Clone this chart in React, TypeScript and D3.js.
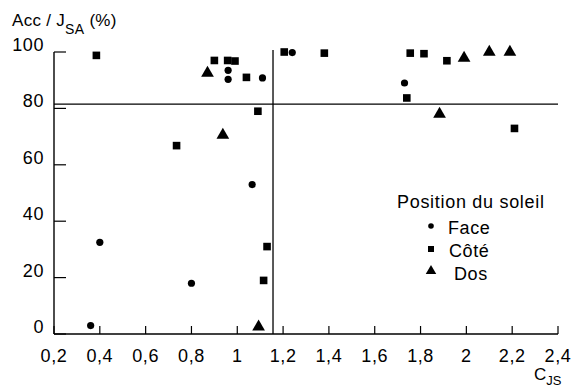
import React, { useRef, useEffect } from 'react';
import * as d3 from 'd3';

// C_JS / Acc values, one list per sun position
const faceX = [0.36, 0.4, 0.8, 0.96, 0.96, 1.065, 1.11, 1.24, 1.73];
const faceY = [3, 32.5, 18, 93.5, 90.3, 53, 90.8, 99.8, 89];

const coteX = [0.385, 0.735, 0.9, 0.958, 0.99, 1.04, 1.09, 1.115, 1.13, 1.205, 1.38, 1.74, 1.755, 1.815, 1.915, 2.21];
const coteY = [98.8, 66.8, 97, 97, 96.8, 91, 79, 19, 31, 100, 99.6, 83.7, 99.6, 99.4, 96.9, 72.9];

const dosX = [0.87, 0.937, 1.093, 1.883, 1.99, 2.1, 2.19];
const dosY = [92.5, 70.5, 2.5, 78, 97.8, 100, 100];

const xTicks = [0.2, 0.4, 0.6, 0.8, 1, 1.2, 1.4, 1.6, 1.8, 2, 2.2, 2.4];
const yTicks = [0, 20, 40, 60, 80, 100];

const seuilAcc = 81.5; // horizontal reference line
const seuilCjs = 1.156; // vertical reference line

const legendLabels = ['Face', 'Côté', 'Dos'];

const font = '"Liberation Sans", Arial, Helvetica, sans-serif';

const ScatterSoleil: React.FC = () => {
  const svgRef = useRef<SVGSVGElement | null>(null);

  useEffect(() => {
    if (!svgRef.current) return;
    const svg = d3.select(svgRef.current);
    svg.selectAll('*').remove();

    const x = d3.scaleLinear().domain([0.2, 2.4]).range([54, 558]);
    const y = d3.scaleLinear().domain([0, 100]).range([334, 52]);

    const g = svg.append('g').attr('font-family', font).attr('fill', '#000');

    // axes lines
    g.append('line')
      .attr('x1', x(0.2)).attr('x2', x(0.2))
      .attr('y1', y(0)).attr('y2', y(100))
      .attr('stroke', '#000').attr('stroke-width', 1.4);
    g.append('line')
      .attr('x1', x(0.2)).attr('x2', x(2.4))
      .attr('y1', y(0)).attr('y2', y(0))
      .attr('stroke', '#000').attr('stroke-width', 1.4);

    // y ticks (inward) + labels
    yTicks.forEach(t => {
      g.append('line')
        .attr('x1', x(0.2)).attr('x2', x(0.2) + 12)
        .attr('y1', y(t)).attr('y2', y(t))
        .attr('stroke', '#000').attr('stroke-width', 1.2);
      g.append('text')
        .attr('x', 44).attr('y', y(t) - 1)
        .attr('text-anchor', 'end')
        .attr('font-size', 18)
        .attr('letter-spacing', 0.6)
        .text(String(t));
    });

    // x ticks (upward) + labels
    xTicks.forEach(t => {
      g.append('line')
        .attr('x1', x(t)).attr('x2', x(t))
        .attr('y1', y(0)).attr('y2', y(0) - 8)
        .attr('stroke', '#000').attr('stroke-width', 1.2);
      g.append('text')
        .attr('x', x(t)).attr('y', 362)
        .attr('text-anchor', 'middle')
        .attr('font-size', 18)
        .attr('letter-spacing', 0.6)
        .text(String(t).replace('.', ','));
    });

    // reference lines
    g.append('line')
      .attr('x1', x(0.2)).attr('x2', x(2.4))
      .attr('y1', y(seuilAcc)).attr('y2', y(seuilAcc))
      .attr('stroke', '#000').attr('stroke-width', 1.3);
    g.append('line')
      .attr('x1', x(seuilCjs)).attr('x2', x(seuilCjs))
      .attr('y1', y(0)).attr('y2', y(100) - 2)
      .attr('stroke', '#000').attr('stroke-width', 1.3);

    // points
    const faceData = faceX.map((v, i) => [v, faceY[i]]);
    const coteData = coteX.map((v, i) => [v, coteY[i]]);
    const dosData = dosX.map((v, i) => [v, dosY[i]]);

    g.selectAll('.face').data(faceData).enter().append('circle')
      .attr('cx', d => x(d[0])).attr('cy', d => y(d[1]))
      .attr('r', 3.6);

    g.selectAll('.cote').data(coteData).enter().append('rect')
      .attr('x', d => x(d[0]) - 3.8).attr('y', d => y(d[1]) - 3.8)
      .attr('width', 7.6).attr('height', 7.6);

    const tri = d3.symbol().type(d3.symbolTriangle).size(70);
    g.selectAll('.dos').data(dosData).enter().append('path')
      .attr('d', tri)
      .attr('transform', d => `translate(${x(d[0])},${y(d[1])})`);

    // axis titles
    const yt = g.append('text').attr('x', 12).attr('y', 26).attr('font-size', 17).attr('letter-spacing', 0.3);
    yt.append('tspan').text('Acc / J');
    yt.append('tspan').attr('dy', 8).attr('font-size', 14).text('SA');
    yt.append('tspan').attr('dy', -8).text(' (%)');

    const xt = g.append('text').attr('x', 534).attr('y', 380).attr('font-size', 17);
    xt.append('tspan').text('C');
    xt.append('tspan').attr('dy', 5).attr('font-size', 13).text('JS');

    // legend
    g.append('text')
      .attr('x', 397).attr('y', 208)
      .attr('font-size', 18)
      .attr('letter-spacing', 0.7)
      .text('Position du soleil');

    const legY = [226, 249, 272];
    const legTextX = [448, 449, 454];
    legendLabels.forEach((lab, i) => {
      if (i === 0) {
        g.append('circle').attr('cx', 431).attr('cy', legY[i]).attr('r', 2.8);
      } else if (i === 1) {
        g.append('rect').attr('x', 428).attr('y', legY[i] - 3).attr('width', 6).attr('height', 6);
      } else {
        g.append('path')
          .attr('d', d3.symbol().type(d3.symbolTriangle).size(48))
          .attr('transform', `translate(431,${legY[i] - 1})`);
      }
      g.append('text')
        .attr('x', legTextX[i]).attr('y', legY[i] + 8)
        .attr('font-size', 18)
        .attr('letter-spacing', 0.6)
        .text(lab);
    });
  }, []);

  return (
    <svg
      ref={svgRef}
      width={576}
      height={390}
      style={{ position: 'absolute', left: 0, top: 0, background: '#fff' }}
    />
  );
};

export default function App() {
  return <ScatterSoleil />;
}
